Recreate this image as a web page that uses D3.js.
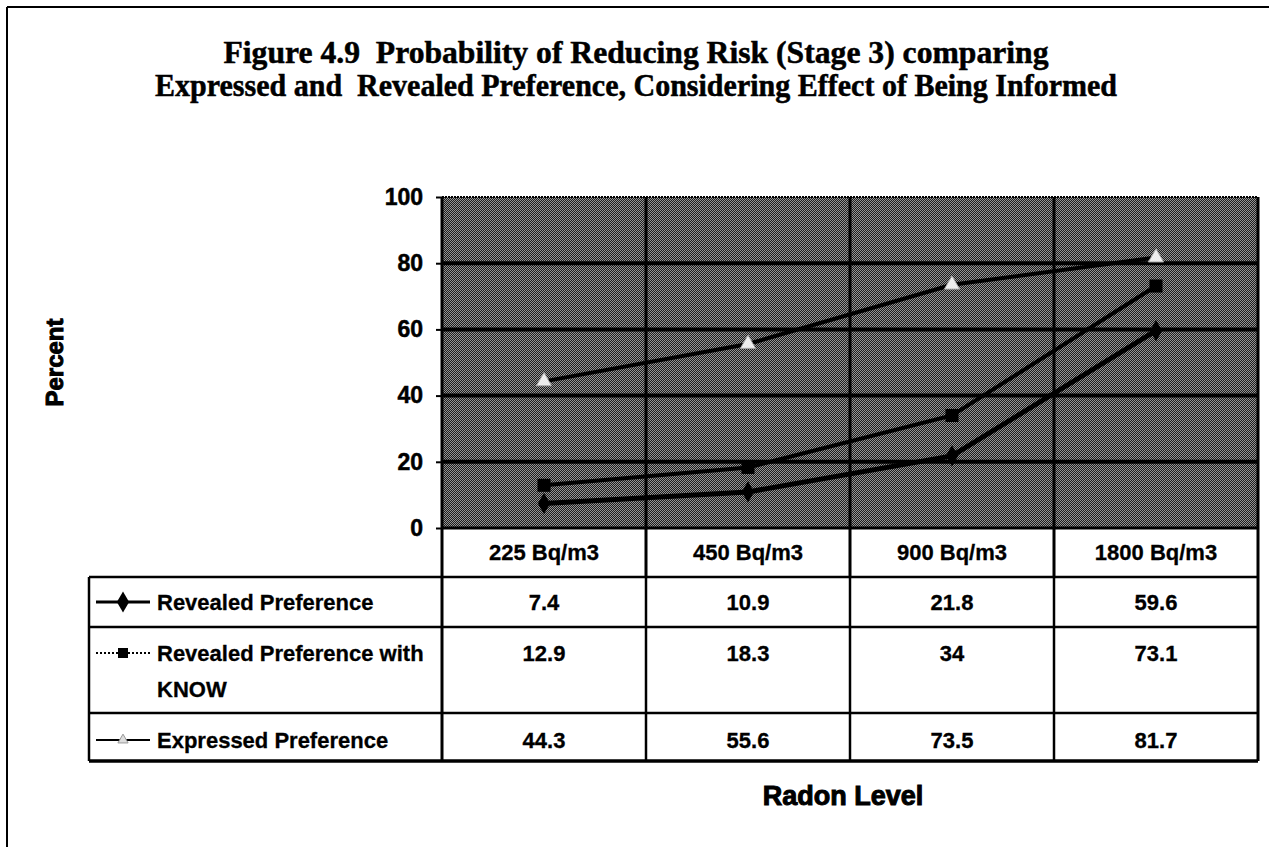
<!DOCTYPE html>
<html><head><meta charset="utf-8">
<script src="https://cdn.jsdelivr.net/npm/d3@7"></script>
<style>body{margin:0;background:#fff}svg{display:block}</style>
</head><body>
<script>
const categories = ["225 Bq/m3", "450 Bq/m3", "900 Bq/m3", "1800 Bq/m3"];
const revealed = [7.4, 10.9, 21.8, 59.6];
const revealedKnow = [12.9, 18.3, 34, 73.1];
const expressed = [44.3, 55.6, 73.5, 81.7];
const seriesNames = ["Revealed Preference", "Revealed Preference with|KNOW", "Expressed Preference"];
const yTicks = [0, 20, 40, 60, 80, 100];
const titleLines = ["Figure 4.9  Probability of Reducing Risk (Stage 3) comparing",
                    "Expressed and  Revealed Preference, Considering Effect of Being Informed"];

const W = 1269, H = 847;
const svg = d3.select("body").append("svg").attr("width", W).attr("height", H);
const sans = "'Liberation Sans', Arial, sans-serif";

// stippled background pattern (checker dither)
const defs = svg.append("defs");
const pat = defs.append("pattern").attr("id", "stip").attr("width", 2).attr("height", 2)
  .attr("patternUnits", "userSpaceOnUse");
pat.append("rect").attr("width", 2).attr("height", 2).attr("fill", "#1e1e1e");
[[0, 0], [1, 1]].forEach(([px, py]) => pat.append("rect").attr("x", px).attr("y", py)
  .attr("width", 1).attr("height", 1).attr("fill", "#949494"));

// frame
svg.append("line").attr("x1", 7).attr("x2", W).attr("y1", 7).attr("y2", 7).attr("stroke", "#000").attr("stroke-width", 2);
svg.append("line").attr("x1", 7).attr("x2", 7).attr("y1", 7).attr("y2", H).attr("stroke", "#000").attr("stroke-width", 2);

// title
const tl = [{t: titleLines[0], y: 63, len: 825}, {t: titleLines[1], y: 96, len: 962}];
tl.forEach(d => svg.append("text").attr("x", 636).attr("y", d.y).attr("text-anchor", "middle")
  .style("white-space", "pre")
  .attr("font-family", "'Liberation Serif', 'Times New Roman', serif").attr("font-weight", "bold")
  .attr("font-size", 31).attr("stroke", "#000").attr("stroke-width", 0.5)
  .attr("textLength", d.len).attr("lengthAdjust", "spacingAndGlyphs").text(d.t));

const x = d3.scaleBand().domain(categories).range([442, 1258]);
const y = d3.scaleLinear().domain([0, 100]).range([528, 197]);
const cx = c => x(c) + x.bandwidth() / 2;

// plot background
svg.append("rect").attr("x", x.range()[0]).attr("y", y(100)).attr("width", x.range()[1] - x.range()[0])
  .attr("height", y(0) - y(100)).attr("fill", "url(#stip)");

// gridlines
svg.selectAll(".hg").data(yTicks.filter(v => v > 0 && v < 100)).join("line")
  .attr("x1", x.range()[0]).attr("x2", x.range()[1]).attr("y1", d => y(d)).attr("y2", d => y(d))
  .attr("stroke", "#000").attr("stroke-width", 4);
svg.append("line").attr("x1", x.range()[0]).attr("x2", x.range()[1]).attr("y1", y(100)).attr("y2", y(100))
  .attr("stroke", "#000").attr("stroke-width", 2).attr("stroke-dasharray", "2,1");
// vertical dividers (plot + header row)
svg.selectAll(".vg").data(categories.slice(1)).join("line")
  .attr("x1", d => x(d)).attr("x2", d => x(d)).attr("y1", y(100)).attr("y2", 577)
  .attr("stroke", "#000").attr("stroke-width", 3);
svg.append("line").attr("x1", x.range()[1]).attr("x2", x.range()[1]).attr("y1", y(100)).attr("y2", 761)
  .attr("stroke", "#000").attr("stroke-width", 3);

// y axis
const ya = svg.append("g").attr("transform", `translate(${x.range()[0]},0)`)
  .call(d3.axisLeft(y).tickValues(yTicks).tickSize(6).tickPadding(13).tickFormat(d3.format("d")));
ya.select(".domain").remove();
ya.selectAll("line").attr("stroke-width", 2);
ya.selectAll("text").attr("font-family", sans).attr("font-weight", "bold").attr("font-size", 23)
  .attr("fill", "#000").attr("stroke", "#000").attr("stroke-width", 0.5);
svg.append("line").attr("x1", x.range()[0]).attr("x2", x.range()[0]).attr("y1", y(100)).attr("y2", 761)
  .attr("stroke", "#000").attr("stroke-width", 3);

// series lines
const line = d3.line().x((d, i) => cx(categories[i])).y(d => y(d));
svg.append("path").datum(expressed).attr("d", line).attr("fill", "none").attr("stroke", "#000").attr("stroke-width", 4);
svg.append("path").datum(revealedKnow).attr("d", line).attr("fill", "none").attr("stroke", "#000").attr("stroke-width", 4);
svg.append("path").datum(revealed).attr("d", line).attr("fill", "none").attr("stroke", "#000").attr("stroke-width", 5);

// markers
const diamond = d3.symbol().type(d3.symbolDiamond).size(130);
const square = d3.symbol().type(d3.symbolSquare).size(170);
const tri = d3.symbol().type(d3.symbolTriangle).size(100);
svg.selectAll(".m1").data(revealed).join("path").attr("d", diamond)
  .attr("transform", (d, i) => `translate(${cx(categories[i])},${y(d)})`).attr("fill", "#000");
svg.selectAll(".m2").data(revealedKnow).join("path").attr("d", square)
  .attr("transform", (d, i) => `translate(${cx(categories[i])},${y(d)})`).attr("fill", "#000");
svg.selectAll(".m3").data(expressed).join("path").attr("d", tri)
  .attr("transform", (d, i) => `translate(${cx(categories[i])},${y(d)})`).attr("fill", "#eeeeee").attr("stroke", "#aaa").attr("stroke-width", 1);

// header row
svg.append("line").attr("x1", x.range()[0]).attr("x2", x.range()[1]).attr("y1", 528).attr("y2", 528).attr("stroke", "#000").attr("stroke-width", 3);
svg.selectAll(".cat").data(categories).join("text").attr("x", d => cx(d)).attr("y", 560)
  .attr("text-anchor", "middle").attr("font-family", sans).attr("font-weight", "bold").attr("font-size", 22)
  .attr("stroke", "#000").attr("stroke-width", 0.3).text(d => d);

// data table body
const tableLeft = 89, rowY = [577, 627, 713, 761];
rowY.forEach((yy, i) => svg.append("line").attr("x1", tableLeft).attr("x2", x.range()[1]).attr("y1", yy).attr("y2", yy)
  .attr("stroke", "#000").attr("stroke-width", i === 3 ? 3.5 : 2.5));
svg.append("line").attr("x1", tableLeft).attr("x2", tableLeft).attr("y1", 577).attr("y2", 761).attr("stroke", "#000").attr("stroke-width", 2.5);
svg.selectAll(".vt").data(categories.slice(1)).join("line")
  .attr("x1", d => x(d)).attr("x2", d => x(d)).attr("y1", 577).attr("y2", 761).attr("stroke", "#000").attr("stroke-width", 2.5);

const allSeries = [revealed, revealedKnow, expressed];
const rowTextY = [610, 661, 748];
allSeries.forEach((vals, r) => {
  svg.selectAll(".v" + r).data(vals).join("text").attr("x", (d, i) => cx(categories[i])).attr("y", rowTextY[r])
    .attr("text-anchor", "middle").attr("font-family", sans).attr("font-weight", "bold").attr("font-size", 22)
    .attr("stroke", "#000").attr("stroke-width", 0.3).text(d => d);
  const parts = seriesNames[r].split("|");
  parts.forEach((p, k) => svg.append("text").attr("x", 157).attr("y", rowTextY[r] + k * 36)
    .attr("font-family", sans).attr("font-weight", "bold").attr("font-size", 22)
    .attr("stroke", "#000").attr("stroke-width", 0.3).text(p));
});
// legend keys
const keyY = [602, 653, 740];
svg.append("line").attr("x1", 96).attr("x2", 150).attr("y1", keyY[0]).attr("y2", keyY[0]).attr("stroke", "#000").attr("stroke-width", 3);
svg.append("path").attr("d", diamond).attr("transform", `translate(123,${keyY[0]})`).attr("fill", "#000");
svg.append("line").attr("x1", 96).attr("x2", 150).attr("y1", keyY[1]).attr("y2", keyY[1]).attr("stroke", "#000").attr("stroke-width", 2).attr("stroke-dasharray", "2,2");
svg.append("path").attr("d", d3.symbol().type(d3.symbolSquare).size(100)).attr("transform", `translate(123,${keyY[1]})`).attr("fill", "#000");
svg.append("line").attr("x1", 96).attr("x2", 150).attr("y1", keyY[2]).attr("y2", keyY[2]).attr("stroke", "#000").attr("stroke-width", 2);
svg.append("path").attr("d", d3.symbol().type(d3.symbolTriangle).size(45)).attr("transform", `translate(123,${keyY[2]})`).attr("fill", "#ddd").attr("stroke", "#999");

// axis titles
svg.append("text").attr("transform", `translate(63,${(y(0) + y(100)) / 2}) rotate(-90)`).attr("text-anchor", "middle")
  .attr("font-family", sans).attr("font-weight", "bold").attr("font-size", 24).attr("stroke", "#000").attr("stroke-width", 1).text("Percent");
svg.append("text").attr("x", 843).attr("y", 805).attr("text-anchor", "middle")
  .attr("font-family", sans).attr("font-weight", "bold").attr("font-size", 27).attr("stroke", "#000").attr("stroke-width", 1).text("Radon Level");
</script>
</body></html>
